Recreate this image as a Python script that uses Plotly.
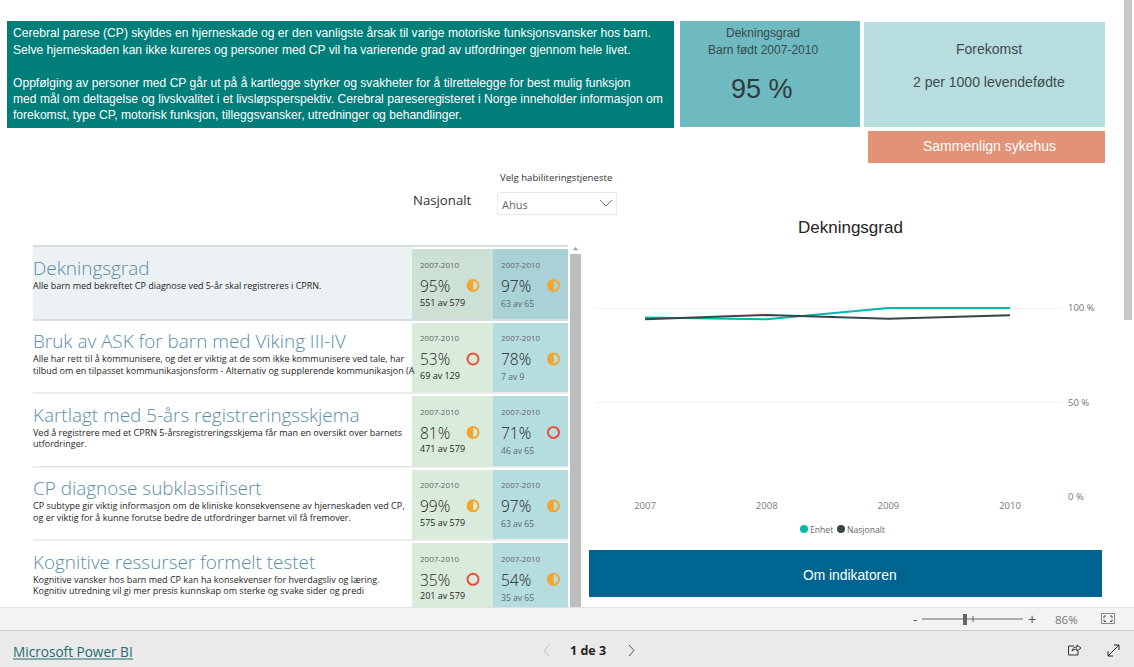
import plotly.graph_objects as go

# ---- data ----
years = [2007, 2008, 2009, 2010]
enhet = [95, 94, 100, 100]
nasjonalt = [94, 96.3, 94.3, 96.2]
y_ticks = [0, 50, 100]
y_labels = ["0 %", "50 %", "100 %"]

titles = ["Dekningsgrad", "Bruk av ASK for barn med Viking III-IV",
          "Kartlagt med 5-års registreringsskjema", "CP diagnose subklassifisert",
          "Kognitive ressurser formelt testet"]
descriptions = [
    ["Alle barn med bekreftet CP diagnose ved 5-år skal registreres i CPRN."],
    ["Alle har rett til å kommunisere, og det er viktig at de som ikke kommunisere ved tale, har",
     "tilbud om en tilpasset kommunikasjonsform - Alternativ og supplerende kommunikasjon (A"],
    ["Ved å registrere med et CPRN 5-årsregistreringsskjema får man en oversikt over barnets",
     "utfordringer."],
    ["CP subtype gir viktig informasjon om de kliniske konsekvensene av hjerneskaden ved CP,",
     "og er viktig for å kunne forutse bedre de utfordringer barnet vil få fremover."],
    ["Kognitive vansker hos barn med CP kan ha konsekvenser for hverdagsliv og læring.",
     "Kognitiv utredning vil gi mer presis kunnskap om sterke og svake sider og predi"],
]
period = "2007-2010"
unit_pct = ["95%", "53%", "81%", "99%", "35%"]
unit_n = ["551 av 579", "69 av 129", "471 av 579", "575 av 579", "201 av 579"]
unit_level = ["mid", "low", "mid", "mid", "low"]
nat_pct = ["97%", "78%", "71%", "97%", "54%"]
nat_n = ["63 av 65", "7 av 9", "46 av 65", "63 av 65", "35 av 65"]
nat_level = ["mid", "mid", "low", "mid", "mid"]

intro = [
    "Cerebral parese (CP) skyldes en hjerneskade og er den vanligste årsak til varige motoriske funksjonsvansker hos barn.",
    "Selve hjerneskaden kan ikke kureres og personer med CP vil ha varierende grad av utfordringer gjennom hele livet.",
    "",
    "Oppfølging av personer med CP går ut på å kartlegge styrker og svakheter for å tilrettelegge for best mulig funksjon",
    "med mål om deltagelse og livskvalitet i et livsløpsperspektiv. Cerebral pareseregisteret i Norge inneholder informasjon om",
    "forekomst, type CP, motorisk funksjon, tilleggsvansker, utredninger og behandlinger.",
]

# ---- page geometry ----
W, H = 1134, 667
ARIAL = "Liberation Sans"
SEGOE = "Open Sans"
shapes, notes = [], []


def box(x0, y0, x1, y1, fill, line=None, lw=1):
    shapes.append(dict(type="rect", xref="x2", yref="y2", x0=x0, y0=y0, x1=x1, y1=y1,
                       fillcolor=fill, line=dict(color=line or fill, width=lw if line else 0),
                       layer="below"))


def seg(x0, y0, x1, y1, color, lw=1):
    shapes.append(dict(type="line", xref="x2", yref="y2", x0=x0, y0=y0, x1=x1, y1=y1,
                       line=dict(color=color, width=lw), layer="below"))


def poly(d, color, lw=1, fill=None):
    shapes.append(dict(type="path", xref="x2", yref="y2", path=d, fillcolor=fill,
                       line=dict(color=color, width=lw), layer="below"))


def txt(x, y, s, size, color, font=ARIAL, anchor="left", weight=None):
    f = dict(family=font, size=size, color=color)
    if weight:
        f["weight"] = weight
    notes.append(dict(xref="x2", yref="y2", x=x, y=y, text=s, showarrow=False, xanchor=anchor,
                      yanchor="middle", borderpad=0, borderwidth=0, font=f))


def icon(cx, cy, level):
    color = "#F2A630" if level == "mid" else "#EE4B3A"
    r = 5.5
    shapes.append(dict(type="circle", xref="x2", yref="y2", x0=cx - r, y0=cy - r, x1=cx + r, y1=cy + r,
                       line=dict(color=color, width=2), fillcolor="rgba(0,0,0,0)", layer="below"))
    if level == "mid":
        k = r * 0.55
        poly(f"M {cx} {cy - r} C {cx - k} {cy - r} {cx - r} {cy - k} {cx - r} {cy} "
             f"C {cx - r} {cy + k} {cx - k} {cy + r} {cx} {cy + r} Z", color, 0.5, color)


# header panels
box(7, 21, 674, 128, "#007E7A")
intro_y = [32.5, 49.5, None, 83, 98.5, 115]
for line, yy in zip(intro, intro_y):
    if line:
        txt(12.5, yy, line, 12.1, "#FFFFFF")
box(680, 21, 860, 127, "#6FB9C0")
txt(763, 32.5, "Dekningsgrad", 12, "#3A4A4C", anchor="center")
txt(763, 50, "Barn født 2007-2010", 12, "#3A4A4C", anchor="center")
txt(762, 89, "95 %", 27, "#333B3C", anchor="center")
box(864, 22, 1105, 127, "#B7DDDF")
txt(989, 49, "Forekomst", 14, "#3F4A4C", anchor="center")
txt(989, 82, "2 per 1000 levendefødte", 14, "#3F4A4C", anchor="center")
box(868, 131, 1105, 163, "#E29276")
txt(989, 146, "Sammenlign sykehus", 14, "#FFFFFF", anchor="center")

# slicer
txt(413, 200, "Nasjonalt", 13.2, "#333333", font=SEGOE)
txt(500, 177, "Velg habiliteringstjeneste", 9.6, "#333333", font=SEGOE)
box(497.5, 192.5, 616.5, 214.5, "#FFFFFF", "#EAEAEA", 1)
txt(502, 204.5, "Ahus", 11, "#666666", font=SEGOE)
poly("M 600 200 L 606 206 L 612 200", "#777777", 1)

# indicator list
tile_top = [249, 323, 396, 470, 543]
tile_bot = [319, 392, 466, 539, 607]
seps = [246, 320, 393, 466.7, 540]
box(33, 247, 412, 319, "#ECF1F4")
for i in range(5):
    seg(33, seps[i], 568, seps[i], "#C8D3DA" if i < 2 else "#E6E6E6", 1.5)
for i, title in enumerate(titles):
    dy = i * 73.45
    green, blue = ("#CCE0D3", "#A9D2D6") if i == 0 else ("#D9ECDC", "#B5DCDE")
    box(412, tile_top[i], 493, tile_bot[i], green)
    box(493, tile_top[i], 568, tile_bot[i], blue)
    txt(33, 268 + dy, title, 18.9, "#5A8EA5", font=SEGOE, weight=300)
    for j, line in enumerate(descriptions[i]):
        txt(33, 285 + (0 if i == 0 else 0.3) + dy + j * 11.5, line, 9, "#252423", font=SEGOE)
    txt(420, 264.5 + dy, period, 8, "#666666", font=SEGOE)
    txt(501, 264.5 + dy, period, 8, "#666666", font=SEGOE)
    txt(420, 286 + dy, unit_pct[i], 15.5, "#252423", font=SEGOE, weight=300)
    txt(501, 286 + dy, nat_pct[i], 15.5, "#252423", font=SEGOE, weight=300)
    txt(420, 302 + dy, unit_n[i], 9, "#252423", font=SEGOE)
    txt(501, 304 + dy, nat_n[i], 8.6, "#5F6B6D", font=SEGOE)
    icon(473, 285.5 + dy, unit_level[i])
    icon(553.5, 285.5 + dy, nat_level[i])

# list scrollbar
box(570, 254, 581, 607, "#BDBDBD")
poly("M 573 250 L 575.5 247 L 578 250 Z", "#AAAAAA", 0.5, "#AAAAAA")

# chart texts
txt(850, 227, "Dekningsgrad", 17, "#252423", anchor="center")
shapes.append(dict(type="circle", xref="x2", yref="y2", x0=800, y0=525, x1=808, y1=533,
                   fillcolor="#01B8AA", line=dict(width=0), layer="below"))
txt(809.5, 529.5, "Enhet", 8.6, "#666666", font=SEGOE)
shapes.append(dict(type="circle", xref="x2", yref="y2", x0=837, y0=525, x1=845, y1=533,
                   fillcolor="#374649", line=dict(width=0), layer="below"))
txt(847, 529.5, "Nasjonalt", 8.6, "#666666", font=SEGOE)
box(589, 550, 1102, 597, "#006491")
txt(850, 575, "Om indikatoren", 13.8, "#FFFFFF", anchor="center")

# page scrollbar
box(1124, 0, 1132, 320, "#C8C8C8")

# footer bars
box(0, 607, W, 630, "#F3F3F3")
box(0, 630, W, H, "#EAEAEA")
seg(0, 607.5, W, 607.5, "#E0E0E0", 1)
seg(0, 630.5, W, 630.5, "#CFCFCF", 1)
txt(915, 619, "-", 13, "#555555", anchor="center")
seg(922, 619, 1023, 619, "#666666", 1)
box(963, 614, 967, 625, "#666666")
seg(973, 616, 973, 622, "#666666", 1)
txt(1032, 619, "+", 14, "#555555", anchor="center")
txt(1066, 619, "86%", 11.5, "#777777", font=SEGOE, anchor="center")
box(1101.5, 613.5, 1114.5, 623.5, "#F3F3F3", "#888888", 1)
poly("M 1104 618 L 1104 616 L 1106 616 M 1112 618 L 1112 616 L 1110 616 M 1104 619.5 L 1104 621.5 L 1106 621.5 "
     "M 1112 619.5 L 1112 621.5 L 1110 621.5", "#555555", 1)
txt(13, 651, "Microsoft Power BI", 13.6, "#1F6A70", font=SEGOE)
seg(13, 659, 133, 659, "#1F6A70", 1)
poly("M 549 645 L 544 650.5 L 549 656", "#BBBBBB", 1)
txt(588, 650, "<b>1 de 3</b>", 12.5, "#252423", font=SEGOE, anchor="center")
poly("M 629 645 L 634 650.5 L 629 656", "#555555", 1)
poly("M 1074 646 L 1068.5 646 L 1068.5 655 L 1078 655 L 1078 651", "#333333", 1)
poly("M 1072 651 C 1072 648 1075 647 1077 647 L 1077 645 L 1081 648 L 1077 651 L 1077 649 C 1075 649 1073 650 1072 651",
     "#333333", 1)
poly("M 1108 656 L 1119 645 M 1114 645 L 1119 645 L 1119 650 M 1108 651 L 1108 656 L 1113 656", "#222222", 1)

fig = go.Figure()
fig.add_trace(go.Scatter(x=years, y=enhet, mode="lines", name="Enhet",
                         line=dict(color="#01B8AA", width=2)))
fig.add_trace(go.Scatter(x=years, y=nasjonalt, mode="lines", name="Nasjonalt",
                         line=dict(color="#374649", width=2)))

y0_px, y100_px = 496.7, 308.0
fig.update_layout(
    width=W, height=H, autosize=False, margin=dict(l=0, r=0, t=0, b=0, autoexpand=False),
    paper_bgcolor="#FFFFFF", plot_bgcolor="rgba(0,0,0,0)", showlegend=False,
    xaxis=dict(domain=[596 / W, 1062 / W], range=[2006.597, 2010.427], tickvals=years,
               ticktext=[str(v) for v in years], showgrid=False, zeroline=False, showline=False,
               ticks="", ticklabelstandoff=2, tickfont=dict(family=SEGOE, size=9.5, color="#777777"),
               fixedrange=True),
    yaxis=dict(domain=[(H - y0_px) / H, (H - (y100_px - 9)) / H],
               range=[0, 100 * (y0_px - y100_px + 9) / (y0_px - y100_px)], side="right",
               tickvals=y_ticks, ticktext=y_labels, showgrid=True, gridcolor="#EFEFEF", gridwidth=1,
               zeroline=False, showline=False, ticks="", ticklabelstandoff=5,
               tickfont=dict(family=SEGOE, size=9.5, color="#777777"), fixedrange=True),
    xaxis2=dict(domain=[0, 1], range=[0, W], visible=False, fixedrange=True, anchor="y2"),
    yaxis2=dict(domain=[0, 1], range=[H, 0], visible=False, fixedrange=True, anchor="x2"),
    shapes=shapes, annotations=notes,
)
fig.write_html("out.html", config=dict(displayModeBar=False),
               post_script="document.body.style.margin='0';document.body.style.overflow='hidden';")
